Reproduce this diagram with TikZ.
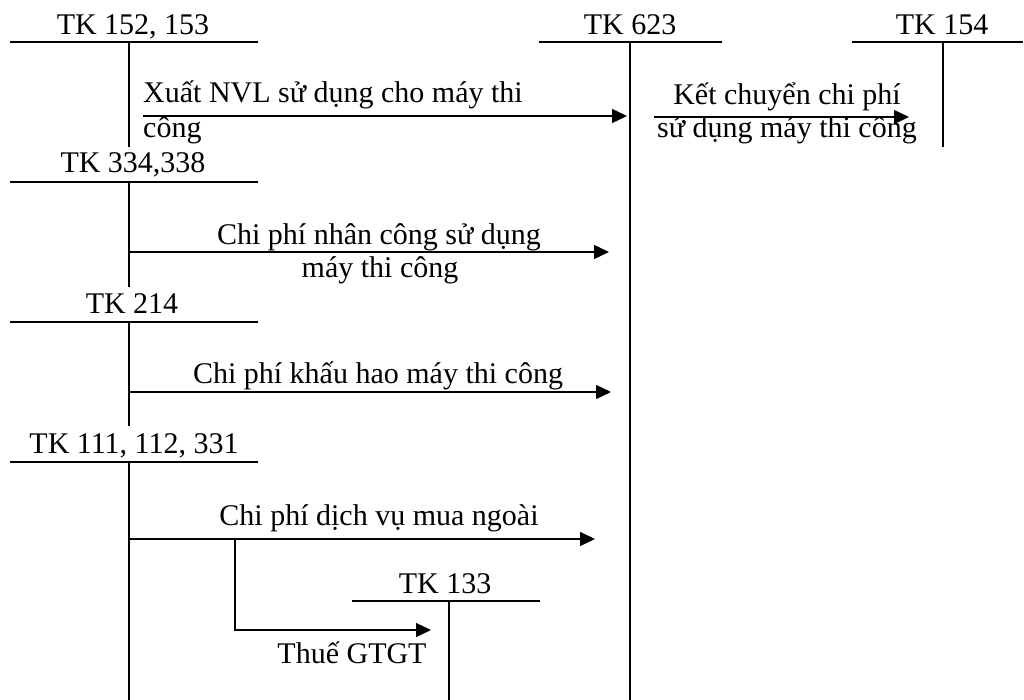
\documentclass[tikz,border=0pt]{standalone}
\usepackage{fontspec}
\setmainfont{Liberation Serif}
\usetikzlibrary{arrows.meta}
\begin{document}
\begin{tikzpicture}[x=1pt,y=-1pt,
  bar/.style={line width=1.6pt},
  stem/.style={line width=2.2pt},
  flow/.style={line width=1.3pt,-{Triangle[length=15pt,width=14pt]}},
  link/.style={line width=1.3pt},
  lbl/.style={inner sep=0pt,font=\fontsize{30}{34}\selectfont},
]
\fill[white] (0,0) rectangle (1024,700);
\useasboundingbox (0,0) rectangle (1024,700);

% T-accounts: top bar ends, stem top and stem bottom
\coordinate (b152l) at (10,42);  \coordinate (b152r) at (258,42);
\coordinate (s152t) at (129,42); \coordinate (s152b) at (129,147);
\coordinate (b623l) at (539,42); \coordinate (b623r) at (722,42);
\coordinate (s623t) at (630,42); \coordinate (s623b) at (630,700);
\coordinate (b154l) at (852,42); \coordinate (b154r) at (1023,42);
\coordinate (s154t) at (943,42); \coordinate (s154b) at (943,147);
\coordinate (b334l) at (10,182); \coordinate (b334r) at (258,182);
\coordinate (s334t) at (129,182); \coordinate (s334b) at (129,287);
\coordinate (b214l) at (10,322); \coordinate (b214r) at (258,322);
\coordinate (s214t) at (129,322); \coordinate (s214b) at (129,426);
\coordinate (b111l) at (10,462); \coordinate (b111r) at (258,462);
\coordinate (s111t) at (129,462); \coordinate (s111b) at (129,700);
\coordinate (b133l) at (352,601); \coordinate (b133r) at (540,601);
\coordinate (s133t) at (449,601); \coordinate (s133b) at (449,700);

\foreach \k in {152,623,154,334,214,111,133}{
  \draw[bar] (b\k l) -- (b\k r);
  \draw[stem] (s\k t) -- (s\k b);
}

% account titles
\node[lbl,anchor=base] (t152) at (133,35)  {TK 152, 153};
\node[lbl,anchor=base] (t623) at (630,35)  {TK 623};
\node[lbl,anchor=base] (t154) at (942,35)  {TK 154};
\node[lbl,anchor=base] (t334) at (133,173) {TK 334,338};
\node[lbl,anchor=base] (t214) at (132,313) {TK 214};
\node[lbl,anchor=base] (t111) at (134,453) {TK 111, 112, 331};
\node[lbl,anchor=base] (t133) at (445,593) {TK 133};

% flow end points
\coordinate (f1s) at (143,116); \coordinate (f1e) at (627,116);
\coordinate (f2s) at (654,117); \coordinate (f2e) at (909,117);
\coordinate (f3s) at (129,252); \coordinate (f3e) at (609,252);
\coordinate (f4s) at (129,392); \coordinate (f4e) at (611,392);
\coordinate (f5s) at (129,539); \coordinate (f5e) at (595,539);
\coordinate (f6s) at (235,539); \coordinate (f6m) at (235,630);
\coordinate (f6e) at (431,630);

\draw[flow] (f1s) -- (f1e);
\draw[flow] (f2s) -- (f2e);
\draw[flow] (f3s) -- (f3e);
\draw[flow] (f4s) -- (f4e);
\draw[flow] (f5s) -- (f5e);
\draw[flow] (f6s) -- (f6m) -- (f6e);

% flow captions
\node[lbl,anchor=base west] (c1a) at (143,103) {Xuất NVL sử dụng cho máy thi};
\node[lbl,anchor=base west] (c1b) at (143,138) {công};
\node[lbl,anchor=base] (c2a) at (787,105) {Kết chuyển chi phí};
\node[lbl,anchor=base] (c2b) at (787,138) {sử dụng máy thi công};
\node[lbl,anchor=base] (c3a) at (379,245) {Chi phí nhân công sử dụng};
\node[lbl,anchor=base] (c3b) at (380,277) {máy thi công};
\node[lbl,anchor=base] (c4)  at (378,383) {Chi phí khấu hao máy thi công};
\node[lbl,anchor=base] (c5)  at (379,525) {Chi phí dịch vụ mua ngoài};
\node[lbl,anchor=base] (c6)  at (352,663) {Thuế GTGT};
\end{tikzpicture}
\end{document}
